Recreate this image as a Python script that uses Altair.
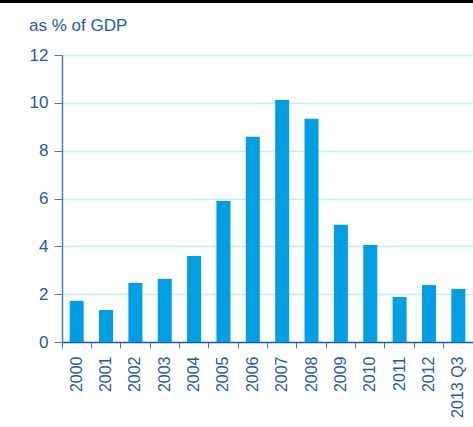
import altair as alt
import pandas as pd

years = ["2000", "2001", "2002", "2003", "2004", "2005", "2006", "2007",
         "2008", "2009", "2010", "2011", "2012", "2013 Q3"]
values = [1.72, 1.34, 2.47, 2.64, 3.6, 5.9, 8.58, 10.12, 9.33, 4.9, 4.06, 1.88, 2.38, 2.22]
title_text = ["as % of GDP"]

df = pd.DataFrame({"year": years, "value": values})

TEXT = "#1f5ba6"
AXIS = "#5478b4"
FONT = "Liberation Sans"

bars = alt.Chart(df).mark_bar(color="#009fe3", width=14).encode(
    x=alt.X("year:N", sort=years, title=None,
            scale=alt.Scale(paddingInner=0, paddingOuter=0),
            axis=alt.Axis(labelAngle=-90, labelFontSize=16, labelColor=TEXT,
                          labelFont=FONT, labelPadding=8, tickSize=6,
                          tickColor=AXIS, domainColor=TEXT, domainWidth=1.5,
                          bandPosition=0, grid=False)),
    y=alt.Y("value:Q", title=None,
            scale=alt.Scale(domain=[0, 12], nice=False),
            axis=alt.Axis(values=[0, 2, 4, 6, 8, 10, 12], labelFontSize=17,
                          labelColor=TEXT, labelFont=FONT, labelPadding=6,
                          tickSize=8, tickColor=AXIS, domainColor=AXIS,
                          domainWidth=1.5, gridColor="#c8eaf6", gridWidth=1.5)),
)

topline = alt.Chart(df).mark_rule(color="#000000", strokeWidth=3).encode(
    x=alt.value(-62), x2=alt.value(411), y=alt.value(-53.5)
)

title = alt.Chart(pd.DataFrame({"t": title_text})).mark_text(
    align="left", baseline="alphabetic", fontSize=17, font=FONT, color=TEXT
).encode(text="t:N", x=alt.value(-33), y=alt.value(-24))

chart = alt.layer(bars, topline, title).properties(
    width=411, height=287,
    padding={"left": 62, "top": 55, "right": 0, "bottom": 85},
    autosize=alt.AutoSizeParams(type="none"),
).configure_view(stroke=None)

chart.save("out.html", embed_options={"renderer": "svg", "actions": False})
